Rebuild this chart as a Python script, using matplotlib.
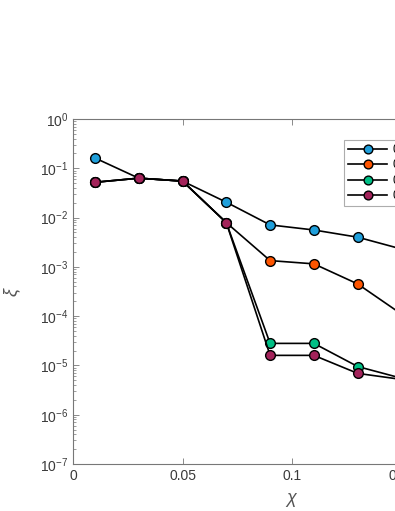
import numpy as np
import matplotlib
matplotlib.use('Agg')
import matplotlib.pyplot as plt
from matplotlib.ticker import LogLocator, FixedLocator, NullFormatter

plt.rcParams['font.family'] = ['Liberation Sans', 'DejaVu Sans']
plt.rcParams['mathtext.fontset'] = 'custom'
plt.rcParams['mathtext.rm'] = 'Liberation Sans'
plt.rcParams['mathtext.it'] = 'Liberation Sans:italic'

# data
chi = [0.01, 0.03, 0.05, 0.07, 0.09, 0.11, 0.13, 0.15]
xi_a = [0.162, 0.063, 0.055, 0.0205, 0.0071, 0.0056, 0.0040, 0.0023]
xi_b = [0.052, 0.063, 0.055, 0.0079, 0.00134, 0.00115, 0.00045, 0.00011]
xi_c = [0.052, 0.063, 0.055, 0.0079, 2.8e-5, 2.8e-5, 9.5e-6, 5.5e-6]
xi_d = [0.052, 0.063, 0.055, 0.0079, 1.6e-5, 1.6e-5, 6.9e-6, 5.2e-6]
series = [xi_a, xi_b, xi_c, xi_d]
labels = ['0.1', '0.2', '0.3', '0.4']
colors = ['#1f9fdb', '#ff5500', '#00bf85', '#a3235a']

W, H = 395, 511
fig = plt.figure(figsize=(W / 100, H / 100), dpi=100)
# axes extends past the right edge of the picture (cropped figure)
left, right, top, bottom = 73, 511, 119, 464
ax = fig.add_axes([left / W, 1 - bottom / H, (right - left) / W, (bottom - top) / H])

for ys, lab, c in zip(series, labels, colors):
    ax.plot(chi, ys, '-o', color='black', lw=1.2, markersize=7,
            markerfacecolor=c, markeredgecolor='black', markeredgewidth=1.0,
            label=lab)

ax.set_yscale('log')
ax.set_xlim(0, 0.2)
ax.set_ylim(1e-7, 1)
ax.xaxis.set_major_locator(FixedLocator([0, 0.05, 0.1, 0.15, 0.2]))
ax.set_xticklabels(['0', '0.05', '0.1', '0.15', '0.2'])
ax.yaxis.set_minor_locator(LogLocator(base=10, subs=np.arange(2, 10), numticks=100))
ax.yaxis.set_minor_formatter(NullFormatter())
ax.set_yticks([10.0 ** k for k in range(-7, 1)])
ax.set_yticklabels([r'$10^{%d}$' % k for k in range(-7, 1)])

axis_col = '#777777'
for side in ['left', 'top', 'bottom', 'right']:
    ax.spines[side].set_color(axis_col)
    ax.spines[side].set_linewidth(0.8)
ax.tick_params(which='both', direction='in', top=True, right=True,
               color=axis_col, labelcolor='#3a3a3a', labelsize=10)
ax.tick_params(which='major', length=4, width=0.6)
ax.tick_params(which='minor', length=2, width=0.5)

ax.set_xlabel(r'$\chi$', fontsize=13, color='#555555', labelpad=6)
ax.set_ylabel(r'$\xi$', fontsize=13, color='#555555', labelpad=12)

leg = ax.legend(loc='upper left', bbox_to_anchor=(344 / W, 1 - 140 / H),
                bbox_transform=fig.transFigure, fontsize=8.5, frameon=True,
                fancybox=False, handlelength=3.3, labelspacing=0.28,
                borderpad=0.35, handletextpad=0.5, borderaxespad=0,
                markerscale=0.9)
leg.get_frame().set_edgecolor('#999999')
leg.get_frame().set_linewidth(0.8)

fig.savefig('out.png', dpi=100)
